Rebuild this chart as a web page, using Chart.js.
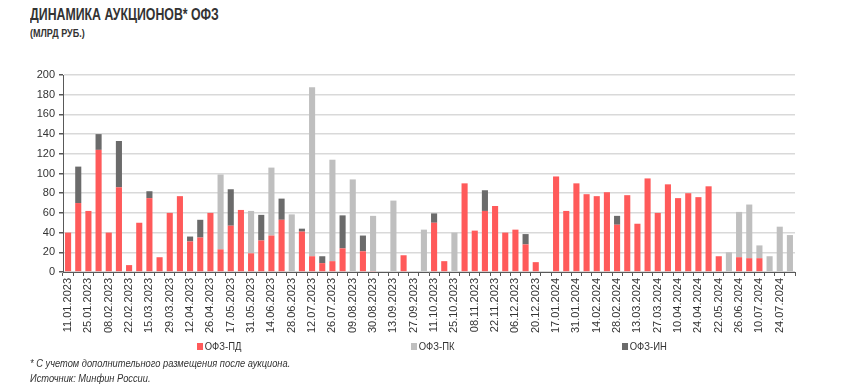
<!DOCTYPE html>
<html lang="ru">
<head>
<meta charset="UTF-8">
<title>Динамика аукционов ОФЗ</title>
<script src="https://cdn.jsdelivr.net/npm/chart.js@4.4.1/dist/chart.umd.min.js"></script>
<style>
  body {
    margin: 0;
    width: 847px;
    height: 391px;
    position: relative;
    background: #ffffff;
    font-family: "Liberation Sans", Arial, sans-serif;
    color: #333333;
    overflow: hidden;
  }
  .title { position: absolute; left: 30px; top: 6px; font-size: 16px; font-weight: bold; transform: scaleX(0.77); transform-origin: left top; white-space: nowrap; }
  .subtitle { position: absolute; left: 30px; top: 27px; font-size: 11px; font-weight: bold; transform: scaleX(0.82); transform-origin: left top; white-space: nowrap; }
  .chart-box { position: absolute; left: 0; top: 0; width: 847px; height: 391px; }
  .legend-item { position: absolute; top: 340px; font-size: 11px; transform: scaleX(0.86); transform-origin: left top; white-space: nowrap; }
  .legend-item span { display: inline-block; width: 7px; height: 7px; margin-right: 2px; vertical-align: 0px; }
  .note { position: absolute; left: 30px; font-size: 10px; font-style: italic; transform: scaleX(0.93); transform-origin: left top; white-space: nowrap; }
</style>
</head>
<body>
<div class="title">ДИНАМИКА АУКЦИОНОВ* ОФЗ</div>
<div class="subtitle">(МЛРД РУБ.)</div>
<div class="chart-box"><canvas id="chart" width="847" height="391"></canvas></div>
<div class="legend-item" style="left:197px"><span style="background:#ff5a5a"></span>ОФЗ-ПД</div>
<div class="legend-item" style="left:411px"><span style="background:#bfbfbf"></span>ОФЗ-ПК</div>
<div class="legend-item" style="left:622px"><span style="background:#6b6b6b"></span>ОФЗ-ИН</div>
<div class="note" style="top:358px">* С учетом дополнительного размещения после аукциона.</div>
<div class="note" style="top:373px">Источник: Минфин России.</div>

<script>
// auction dates (only every other one is labelled on the axis)
const dates = [
  '11.01.2023','18.01.2023','25.01.2023','01.02.2023','08.02.2023','15.02.2023','22.02.2023','01.03.2023',
  '15.03.2023','22.03.2023','29.03.2023','05.04.2023','12.04.2023','19.04.2023','26.04.2023','10.05.2023',
  '17.05.2023','24.05.2023','31.05.2023','07.06.2023','14.06.2023','21.06.2023','28.06.2023','05.07.2023',
  '12.07.2023','19.07.2023','26.07.2023','02.08.2023','09.08.2023','16.08.2023','30.08.2023','06.09.2023',
  '13.09.2023','20.09.2023','27.09.2023','04.10.2023','11.10.2023','18.10.2023','25.10.2023','01.11.2023',
  '08.11.2023','15.11.2023','22.11.2023','29.11.2023','06.12.2023','13.12.2023','20.12.2023','27.12.2023',
  '17.01.2024','24.01.2024','31.01.2024','07.02.2024','14.02.2024','21.02.2024','28.02.2024','06.03.2024',
  '13.03.2024','20.03.2024','27.03.2024','03.04.2024','10.04.2024','17.04.2024','24.04.2024','08.05.2024',
  '22.05.2024','05.06.2024','26.06.2024','03.07.2024','10.07.2024','17.07.2024','24.07.2024','31.07.2024'
];

// ОФЗ-ПД, млрд руб.
const ofzPD = [
  40,70,62,124,40,86,7,50,75,15,
  60,77,31,35,60,23,47,63,19,32,
  37,53,0,41,16,9,11,24,0,21,
  1,0,0,17,0,0,50,11,0,90,
  42,62,67,40,43,28,10,0,97,62,
  90,79,77,81,48,78,49,95,60,89,
  75,80,76,87,16,0,15,14,14,0,
  0,0
];

// ОФЗ-ПК
const ofzPK = [
  0,0,0,0,0,0,0,0,0,0,
  0,0,0,0,0,76,0,0,43,0,
  69,0,58.5,0,171.5,0,103,0,94,0,
  56,0,72.5,0,0,43,0,0,40,0,
  0,0,0,0,0,0,0,0,0,0,
  0,0,0,0,0,0,0,0,0,0,
  0,0,0,0,0,20,46,54.5,13,16,
  46,37.5
];

// ОФЗ-ИН
const ofzIN = [
  0,37,0,16,0,47,0,0,7,0,
  0,0,5,18,0,0,37,0,0,26,
  0,21.5,0,3,0,7,0,33.5,0,16,
  0,0,0,0,0,0,9.5,0,0,0,
  0,21,0,0,0,10.5,0,0,0,0,
  0,0,0,0,9,0,0,0,0,0,
  0,0,0,0,0,0,0,0,0,0,
  0,0
];

const axisColor = '#595959';
const textColor = '#333333';
const fontFamily = '"Liberation Sans", Arial, sans-serif';

new Chart(document.getElementById('chart'), {
  type: 'bar',
  data: {
    labels: dates,
    datasets: [
      { label: 'ОФЗ-ПД', data: ofzPD, backgroundColor: '#ff5a5a' },
      { label: 'ОФЗ-ПК', data: ofzPK, backgroundColor: '#bfbfbf' },
      { label: 'ОФЗ-ИН', data: ofzIN, backgroundColor: '#6b6b6b' }
    ]
  },
  options: {
    responsive: false,
    animation: false,
    barPercentage: 0.6,
    categoryPercentage: 1,
    layout: { padding: { left: 0, right: 52, top: 75, bottom: 47 } },
    plugins: {
      legend: { display: false },
      tooltip: { enabled: false }
    },
    scales: {
      x: {
        stacked: true,
        border: { color: axisColor, width: 1 },
        grid: { offset: true, drawOnChartArea: false, drawTicks: true, tickLength: 4, tickColor: axisColor },
        ticks: {
          autoSkip: false,
          maxRotation: 90,
          minRotation: 90,
          padding: 2,
          color: textColor,
          font: { family: fontFamily, size: 11 },
          callback: function(value, index) { return index % 2 === 0 ? dates[index] : ''; }
        },
        afterFit: function(scale) { scale.height = 72; }
      },
      y: {
        stacked: true,
        min: 0,
        max: 200,
        border: { color: axisColor, width: 1 },
        grid: { color: '#d9d9d9', lineWidth: 1.5, tickLength: 4, tickColor: axisColor },
        ticks: {
          stepSize: 20,
          padding: 4,
          color: textColor,
          font: { family: fontFamily, size: 11 }
        },
        afterFit: function(scale) { scale.width = 63; }
      }
    }
  }
});
</script>
</body>
</html>
